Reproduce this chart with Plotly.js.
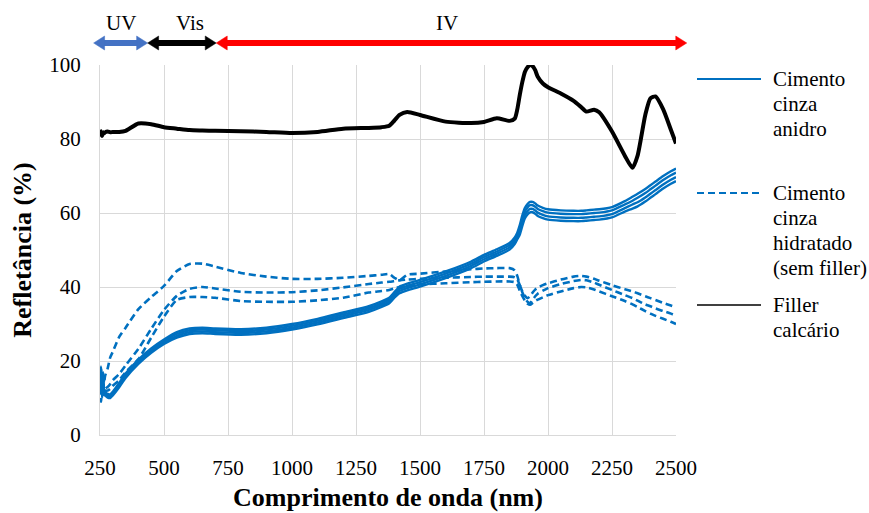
<!DOCTYPE html>
<html>
<head>
<meta charset="utf-8">
<script src="https://cdn.plot.ly/plotly-3.0.1.min.js"></script>
<style>html,body{margin:0;padding:0;background:#fff;}#chart{width:869px;height:513px;}</style>
</head>
<body>
<div id="chart"></div>
<script>
// Wavelength (nm)
const wl = [250,254,258,262,266,270,280,290,300,325,
  350,400,450,500,550,600,650,700,800,900,
  1000,1100,1200,1300,1350,1380,1400,1420,1450,1500,
  1600,1700,1750,1800,1850,1870,1880,1890,1900,1910,
  1920,1930,1940,1950,1960,1980,2000,2050,2100,2130,
  2150,2180,2200,2250,2300,2330,2350,2380,2400,2420,
  2450,2480,2500];

// Cimento cinza anidro (4 samples)
const anidro1 = [16,18.5,12,17,12,11.6,11.1,11.0,11.7,14.1,
  16.6,20.4,23.4,25.8,27.8,28.8,29.0,28.8,28.6,29.0,
  30.0,31.4,33.1,34.8,36.1,37.1,38.6,40.1,40.9,41.9,
  44.2,46.9,48.7,50.2,51.9,53.4,54.7,56.8,59.4,61.4,
  62.4,63.0,63.0,62.6,62.0,61.4,61.0,60.7,60.6,60.6,
  60.7,60.9,61.0,61.6,63.2,64.4,65.2,66.5,67.5,68.5,
  70.0,71.3,72.0];
const anidro2 = [14,17,11,15,11.8,11.3,10.7,10.6,11.3,13.7,
  16.2,20.0,23.0,25.4,27.3,28.3,28.5,28.3,28.1,28.5,
  29.5,30.9,32.6,34.3,35.6,36.6,38.1,39.5,40.3,41.3,
  43.6,46.3,48.1,49.6,51.3,52.8,54.1,55.9,58.5,60.5,
  61.5,62.1,62.1,61.7,61.1,60.5,60.1,59.8,59.7,59.7,
  59.8,60.0,60.1,60.7,62.3,63.3,64.1,65.4,66.4,67.4,
  68.9,70.2,70.9];
const anidro3 = [15.5,12,16.5,11.5,11,11,10.5,10.4,11.1,13.3,
  15.8,19.6,22.6,25.0,26.8,27.8,28.0,27.8,27.6,28.0,
  29.0,30.4,32.1,33.8,35.1,36.1,37.6,38.9,39.7,40.7,
  43.0,45.7,47.5,49.0,50.7,52.2,53.5,55.1,57.5,59.5,
  60.5,61.1,61.1,60.7,60.1,59.5,59.1,58.8,58.7,58.7,
  58.8,59.0,59.1,59.7,61.3,62.3,62.9,64.2,65.2,66.2,
  67.7,69.0,69.7];
const anidro4 = [13,16,10,14,10.8,10.7,10.1,10.0,10.7,12.9,
  15.4,19.2,22.2,24.6,26.3,27.3,27.5,27.3,27.1,27.5,
  28.5,29.9,31.6,33.3,34.6,35.6,37.1,38.3,39.1,40.1,
  42.4,45.1,46.9,48.4,50.1,51.6,52.9,54.2,56.6,58.6,
  59.6,60.2,60.2,59.8,59.2,58.6,58.2,57.9,57.8,57.8,
  57.9,58.1,58.2,58.8,60.4,61.2,61.8,63.1,64.1,65.1,
  66.6,67.9,68.6];

// Cimento cinza hidratado (sem filler) (3 samples)
const hidratado1 = [14,18,13,16,14,16,18,21,22.5,26.5,
  29,34,37.3,40.3,44.3,46.2,46.3,45.5,43.8,42.8,
  42.2,42.2,42.5,43,43.3,43.5,42.5,41.8,43.3,43.6,
  44.2,44.8,45,45.1,45.1,44.5,43,40.5,38.8,37.6,
  37,37.5,38.5,39.3,39.8,40.5,41,42,42.8,43,
  42.8,42.2,41.7,40.5,39.4,38.8,38.3,37.5,37,36.5,
  35.7,35,34.5];
const hidratado2 = [12,16,11,14,12,12.5,13,13.8,14.8,16.5,
  18.8,23.3,28.7,33.8,37.6,39.5,40,39.6,38.7,38.5,
  38.6,39.1,39.9,40.8,41.2,41.4,41.6,41.8,42,42.2,
  42.5,42.7,42.8,42.8,42.8,42.6,42,40.5,38.5,37,
  36,35.7,36.5,37.5,38.2,39,39.7,40.8,41.6,41.9,
  41.8,41.2,40.6,39.2,37.8,37,36.3,35.3,34.8,34.2,
  33.5,32.8,32.2];
const hidratado3 = [13,9,15,11,12,12,12,12.5,13.3,14.8,
  17,20.5,26.3,32,36.5,37.3,37.3,37.1,36.2,36,
  36,36.4,37.1,38.5,38.9,39.2,39.6,40,40.3,40.7,
  41,41.3,41.4,41.5,41.5,41.3,40.6,39,37.5,36.3,
  35.5,35.2,35.7,36.2,36.6,37.2,37.8,38.8,39.7,40,
  39.9,39.3,38.8,37.5,36.2,35.3,34.6,33.5,32.8,32.2,
  31.4,30.6,30];

// Filler calcário
const filler = [82.5,81.5,80.8,81.8,81.5,81.8,82,81.8,81.9,81.9,
  82.2,84.2,84,83.2,82.8,82.4,82.3,82.2,82.1,81.9,
  81.6,81.9,82.8,83,83.2,83.6,85,86.5,87.3,86.5,
  84.7,84.3,84.6,85.6,84.9,85.5,88,92,95.5,98.2,
  99.4,100,99.7,98.6,96.8,95,94,92.3,90.3,88.6,
  87.4,87.9,87.2,82,75.5,72.2,75.5,86.5,91,91.5,
  88,82.5,78.8];

// Labels
const seriesNames = ["Cimento cinza anidro", "Cimento cinza hidratado (sem filler)", "Filler calcário"];
const legendLines = [["Cimento","cinza","anidro"],["Cimento","cinza","hidratado","(sem filler)"],["Filler","calcário"]];
const xTicks = [250,500,750,1000,1250,1500,1750,2000,2250,2500];
const yTicks = [0,20,40,60,80,100];
const bands = [{label:"UV", from:225, to:436, mid:333, color:"#4472C4"},
               {label:"Vis", from:436, to:704, mid:600, color:"#000000"},
               {label:"IV", from:704, to:2542, mid:1605, color:"#FF0000"}];

const BLUE = "#0070C0";
const FONT = "Liberation Serif, Times New Roman, serif";

const traces = [];
[anidro1, anidro2, anidro3, anidro4].forEach((y, i) => traces.push({
  x: wl, y: y, type: "scatter", mode: "lines", name: seriesNames[0],
  line: {color: BLUE, width: 2.4, shape: "spline", smoothing: 0.6}, showlegend: false, hoverinfo: "skip"
}));
[hidratado1, hidratado2, hidratado3].forEach((y, i) => traces.push({
  x: wl, y: y, type: "scatter", mode: "lines", name: seriesNames[1],
  line: {color: BLUE, width: 2.6, dash: "7px,4px", shape: "spline", smoothing: 0.6}, showlegend: false, hoverinfo: "skip"
}));
traces.push({
  x: wl, y: filler, type: "scatter", mode: "lines", name: seriesNames[2],
  line: {color: "#000000", width: 4, shape: "spline", smoothing: 0.6}, showlegend: false, hoverinfo: "skip"
});

// Layout geometry (pixels)
const W = 869, H = 513, ML = 100, MR = 193, MT = 65, MB = 78;
const PW = W - ML - MR, PH = H - MT - MB;
const xr = [250, 2500];
const nmToPaper = nm => (nm - xr[0]) / (xr[1] - xr[0]);
const pxToPaperX = px => (px - ML) / PW;
const pyToPaperY = py => (H - MB - py) / PH;

const shapes = [];
const annotations = [];

// Spectral region arrows
const arrowY = pyToPaperY(43);
const headLenPx = 11, headHalfPx = 7;
bands.forEach(b => {
  const x0 = nmToPaper(b.from), x1 = nmToPaper(b.to);
  const hl = headLenPx / PW, hh = headHalfPx / PH;
  shapes.push({type: "line", xref: "paper", yref: "paper", x0: x0 + hl * 0.8, x1: x1 - hl * 0.8, y0: arrowY, y1: arrowY,
    line: {color: b.color, width: 6}});
  shapes.push({type: "path", xref: "paper", yref: "paper", fillcolor: b.color, line: {color: b.color, width: 0.5},
    path: `M ${x0},${arrowY} L ${x0 + hl},${arrowY + hh} L ${x0 + hl},${arrowY - hh} Z`});
  shapes.push({type: "path", xref: "paper", yref: "paper", fillcolor: b.color, line: {color: b.color, width: 0.5},
    path: `M ${x1},${arrowY} L ${x1 - hl},${arrowY + hh} L ${x1 - hl},${arrowY - hh} Z`});
  annotations.push({xref: "paper", yref: "paper", x: nmToPaper(b.mid), y: pyToPaperY(23), text: b.label,
    showarrow: false, xanchor: "center", yanchor: "middle", font: {family: FONT, size: 21, color: "#000"}});
});

// Manual legend
const legendSpec = [
  {rowY: 79, color: BLUE, dash: "solid", width: 2},
  {rowY: 193, color: BLUE, dash: "7px,4px", width: 2},
  {rowY: 305, color: "#000000", dash: "solid", width: 1.3}
];
legendSpec.forEach((s, i) => {
  const y = pyToPaperY(s.rowY);
  shapes.push({type: "line", xref: "paper", yref: "paper", x0: pxToPaperX(697), x1: pxToPaperX(761), y0: y, y1: y,
    line: {color: s.color, width: s.width, dash: s.dash}});
  legendLines[i].forEach((t, j) => annotations.push({xref: "paper", yref: "paper", x: pxToPaperX(771),
    y: pyToPaperY(s.rowY + 25 * j), text: t, showarrow: false, xanchor: "left", yanchor: "middle",
    font: {family: FONT, size: 21, color: "#000"}}));
});

const layout = {
  width: W, height: H,
  margin: {l: ML, r: MR, t: MT, b: MB},
  paper_bgcolor: "#fff", plot_bgcolor: "#fff",
  showlegend: false,
  font: {family: FONT, size: 21, color: "#000"},
  xaxis: {
    range: xr, tickvals: xTicks, ticktext: xTicks.map(String),
    showgrid: true, gridcolor: "#D9D9D9", gridwidth: 1,
    showline: true, linecolor: "#D9D9D9", linewidth: 1, zeroline: false,
    ticks: "", ticklabelstandoff: 14,
    tickfont: {family: FONT, size: 21, color: "#000"},
    title: {text: "<b>Comprimento de onda (nm)</b>", font: {family: FONT, size: 26, color: "#000"}, standoff: 8}
  },
  yaxis: {
    range: [0, 100], tickvals: yTicks,
    showgrid: true, gridcolor: "#D9D9D9", gridwidth: 1,
    showline: true, linecolor: "#D9D9D9", linewidth: 1, zeroline: false,
    ticks: "", ticklabelstandoff: 14,
    tickfont: {family: FONT, size: 21, color: "#000"},
    title: {text: "<b>Refletância (%)</b>", font: {family: FONT, size: 26, color: "#000"}, standoff: 10}
  },
  shapes: shapes,
  annotations: annotations
};

Plotly.newPlot("chart", traces, layout, {displayModeBar: false, staticPlot: true});
</script>
</body>
</html>
